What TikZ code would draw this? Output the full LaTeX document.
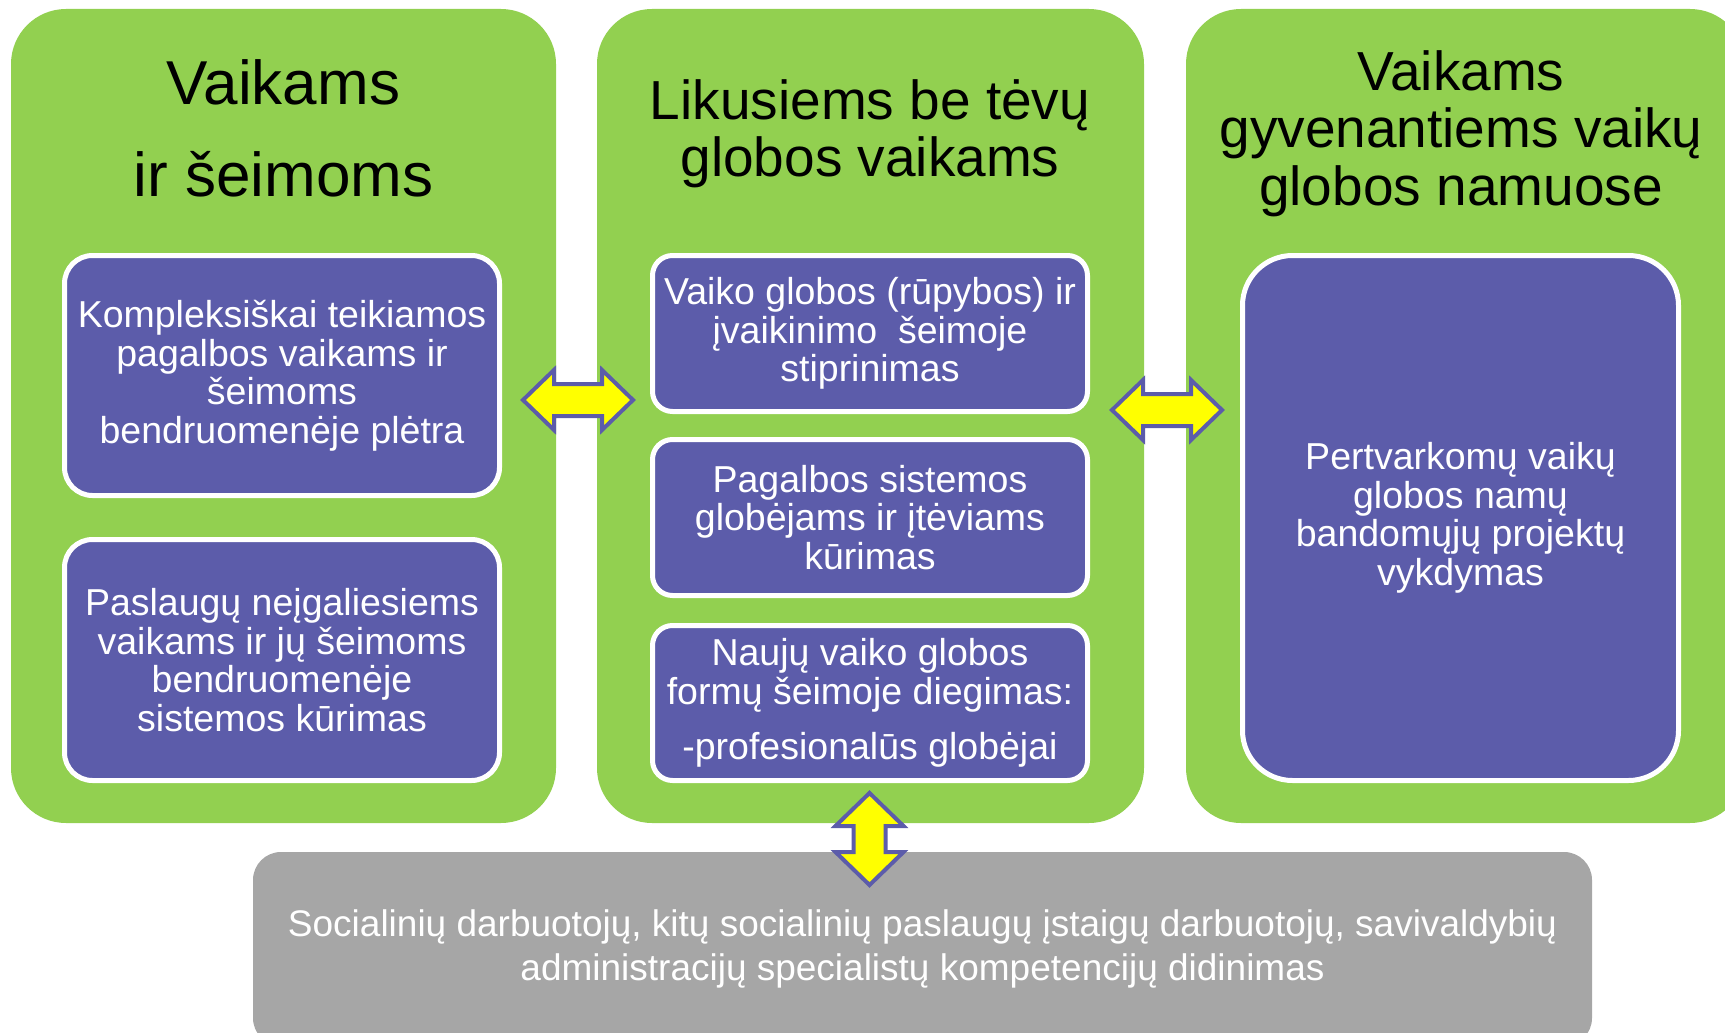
\documentclass[tikz,border=0pt]{standalone}
\usepackage{fontspec}
\setmainfont{Liberation Sans}
\usetikzlibrary{positioning,calc}

\definecolor{boxgreen}{RGB}{146,208,80}
\definecolor{boxpurple}{RGB}{92,92,170}
\definecolor{boxgrey}{RGB}{166,166,166}
\definecolor{arrowyellow}{RGB}{255,255,0}

\begin{document}
\begin{tikzpicture}
[x=1pt,y=-1pt,
greenbox/.style={fill=boxgreen,rounded corners=55pt,inner sep=0pt},
purplebox/.style={draw=white,line width=5pt,fill=boxpurple,text=white,align=center,inner sep=0pt,font=\fontsize{37.5}{38.5}\selectfont},
greybox/.style={fill=boxgrey,rounded corners=28pt,text=white,align=center,inner sep=0pt,font=\fontsize{37}{44}\selectfont},
titletext/.style={align=center,inner sep=0pt,font=\fontsize{55}{57}\selectfont},
arrowshape/.style={draw=boxpurple,line width=4pt,fill=arrowyellow,line join=miter},]

%Page size
\useasboundingbox (0,0) rectangle (1725,1033);
\clip (0,0) rectangle (1725,1033);

%Green columns
\node[greenbox,minimum width=545pt,minimum height=814pt] (gL) at (283.5,416) {};
\node[greenbox,minimum width=547pt,minimum height=814pt] (gM) at (870.5,416) {};
\node[greenbox,minimum width=559pt,minimum height=814pt] (gR) at (1465.5,416) {};

%Grey bar
\node[greybox,minimum width=1339pt,minimum height=194pt] (grey) at (922.5,949)
  {Socialinių darbuotojų, kitų socialinių paslaugų įstaigų darbuotojų, savivaldybių\\
   administracijų specialistų kompetencijų didinimas};

%Titles
\node[titletext,font=\fontsize{62}{92}\selectfont] (tL) at (283.5,128) {Vaikams\\ir šeimoms};
\node[titletext] (tM) at (870,134) {Likusiems be tėvų\\globos vaikams};
\node[titletext,font=\fontsize{55}{57.5}\selectfont] (tR) at (1461,133.5) {Vaikams\\gyvenantiems vaikų\\globos namuose};

%Left column
\node[purplebox,rounded corners=28pt,minimum width=435pt,minimum height=240pt] (pL1) at (282,375.5)
  {Kompleksiškai teikiamos\\pagalbos vaikams ir\\šeimoms\\bendruomenėje plėtra};
\node[purplebox,rounded corners=28pt,minimum width=435pt,minimum height=241pt] (pL2) at (282,660)
  {Paslaugų neįgaliesiems\\vaikams ir jų šeimoms\\bendruomenėje\\sistemos kūrimas};

%Middle column
\node[purplebox,rounded corners=20pt,minimum width=435pt,minimum height=156pt] (pM1) at (870,333.5)
  {Vaiko globos (rūpybos) ir\\įvaikinimo\ \ šeimoje\\stiprinimas};
\node[purplebox,rounded corners=20pt,minimum width=435pt,minimum height=156pt] (pM2) at (870,517.5)
  {Pagalbos sistemos\\globėjams ir įtėviams\\kūrimas};
\node[purplebox,rounded corners=20pt,minimum width=435pt,minimum height=155pt] (pM3) at (870,703)
  {Naujų vaiko globos\\formų šeimoje diegimas:\\[17pt]-profesionalūs globėjai};

%Right column
\node[purplebox,rounded corners=50pt,minimum width=436pt,minimum height=525pt] (pR) at (1460.5,518)
  {Pertvarkomų vaikų\\globos namų\\bandomųjų projektų\\vykdymas};

%Arrows between columns
\coordinate (aLM) at (578,400);
\coordinate (aMR) at (1167,410);
\coordinate (aMG) at (869.5,839);
\draw[arrowshape] (aLM) ++(-55,0) -- ++(31,-30) -- ++(0,14) -- ++(48,0) -- ++(0,-14)
  -- ++(31,30) -- ++(-31,30) -- ++(0,-14) -- ++(-48,0) -- ++(0,14) -- cycle;
\draw[arrowshape] (aMR) ++(-55,0) -- ++(31,-30) -- ++(0,14) -- ++(48,0) -- ++(0,-14)
  -- ++(31,30) -- ++(-31,30) -- ++(0,-14) -- ++(-48,0) -- ++(0,14) -- cycle;
\draw[arrowshape] (aMG) ++(0,-46) -- ++(34,33) -- ++(-18,0) -- ++(0,26) -- ++(18,0)
  -- ++(-34,33) -- ++(-34,-33) -- ++(18,0) -- ++(0,-26) -- ++(-18,0) -- cycle;

\end{tikzpicture}
\end{document}
